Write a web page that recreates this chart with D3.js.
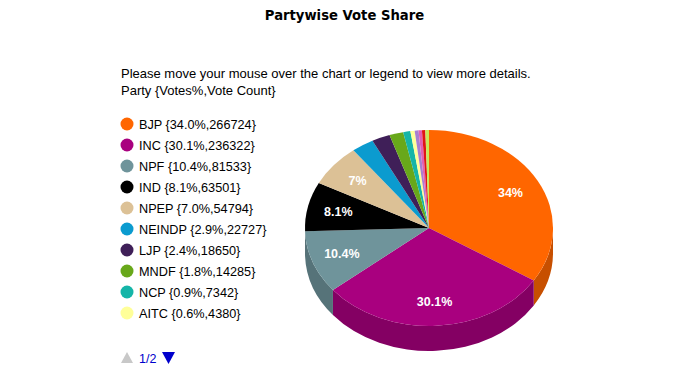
<!DOCTYPE html>
<html>
<head>
<meta charset="utf-8">
<script src="https://cdn.jsdelivr.net/npm/d3@7"></script>
<style>
  body { margin: 0; background: #fff; }
  svg { display: block; }
</style>
</head>
<body>
<div id="vis"></div>
<script>
// party data (first legend page + the small slices of page 2)
const parties = ['BJP', 'INC', 'NPF', 'IND', 'NPEP', 'NEINDP', 'LJP', 'MNDF', 'NCP', 'AITC', 'CPI', 'JD(U)', 'CPI(M)', 'NOTA']
const votes = [266724, 236322, 81533, 63501, 54794, 22727, 18650, 14285, 7342, 4380, 3900, 3500, 3400, 3700]
const pcts = [34.0, 30.1, 10.4, 8.1, 7.0, 2.9, 2.4, 1.8, 0.9, 0.6, 0.5, 0.4, 0.4, 0.5]
const partyColors = ['#ff6600', '#a9007f', '#6f949b', '#000000', '#dcc196', '#0b9bcf', '#3f1f58', '#68a81a', '#15b5a8', '#ffff99', '#a77fd0', '#e25fb4', '#e01515', '#c8e85a']
const legendCount = 10

const W = 689, H = 385
const cx = 429, cy = 228, rx = 124, ry = 98, depth = 25

const svg = d3.select('#vis').append('svg')
    .attr('width', W)
    .attr('height', H)

const color = d3.scaleOrdinal().domain(parties).range(partyColors)

let dataset = parties.map((p, i) => ({ party: p, votes: votes[i], pct: pcts[i] }))

// title
svg.append('text')
    .attr('x', W / 2)
    .attr('y', 20)
    .attr('text-anchor', 'middle')
    .style('font-family', 'DejaVu Sans, Verdana, sans-serif')
    .style('font-weight', 'bold')
    .style('font-size', '13.2px')
    .text('Partywise Vote Share')

let info = svg.append('g')
    .style('font-family', 'Liberation Sans, Arial, sans-serif')
    .style('font-size', '13px')
info.append('text').attr('x', 121).attr('y', 78).text('Please move your mouse over the chart or legend to view more details.')
info.append('text').attr('x', 121).attr('y', 95).text('Party {Votes%,Vote Count}')

// 3d pie
let pie = d3.pie().value(d => d.votes).sort(null).startAngle(0)
let arcs = pie(dataset)

function pt(a, dy) {
    return [cx + rx * Math.sin(a), cy - ry * Math.cos(a) + (dy || 0)]
}

let pieG = svg.append('g')

// visible side walls (front half, between 90 and 270 degrees)
arcs.forEach(d => {
    let a1 = Math.max(d.startAngle, Math.PI / 2)
    let a2 = Math.min(d.endAngle, Math.PI * 1.5)
    if (a2 <= a1) return
    let p1 = pt(a1), p2 = pt(a2), q1 = pt(a1, depth), q2 = pt(a2, depth)
    let path = `M${p1}A${rx},${ry} 0 0 1 ${p2}L${q2}A${rx},${ry} 0 0 0 ${q1}Z`
    pieG.append('path')
        .attr('d', path)
        .attr('fill', d3.color(color(d.data.party)).darker(0.7))
})

// top faces
arcs.forEach(d => {
    let p1 = pt(d.startAngle), p2 = pt(d.endAngle)
    let large = d.endAngle - d.startAngle > Math.PI ? 1 : 0
    pieG.append('path')
        .attr('d', `M${cx},${cy}L${p1}A${rx},${ry} 0 ${large} 1 ${p2}Z`)
        .attr('fill', color(d.data.party))
})

// slice labels
let fmt = v => d3.format('.1f')(v).replace(/\.0$/, '') + '%'
pieG.selectAll('.lbl')
    .data(arcs.filter(d => d.data.pct >= 5))
    .join('text')
    .attr('class', 'lbl')
    .attr('x', d => cx + 0.75 * rx * Math.sin((d.startAngle + d.endAngle) / 2))
    .attr('y', d => cy - 0.75 * ry * Math.cos((d.startAngle + d.endAngle) / 2))
    .attr('dy', '0.35em')
    .attr('text-anchor', 'middle')
    .attr('fill', '#fff')
    .style('font-family', 'Liberation Sans, Arial, sans-serif')
    .style('font-weight', 'bold')
    .style('font-size', '12.5px')
    .text(d => fmt(d.data.pct))

// legend
let legendY = d3.scalePoint().domain(parties.slice(0, legendCount)).range([124, 313])
let legend = svg.append('g')
    .selectAll('g')
    .data(dataset.slice(0, legendCount))
    .join('g')
    .attr('transform', d => `translate(127,${legendY(d.party)})`)

legend.append('circle')
    .attr('r', 6.5)
    .attr('fill', d => color(d.party))

legend.append('text')
    .attr('x', 12)
    .attr('dy', '0.36em')
    .style('font-family', 'Liberation Sans, Arial, sans-serif')
    .style('font-size', '12.7px')
    .text(d => `${d.party} {${d3.format('.1f')(d.pct)}%,${d.votes}}`)

// paging arrows
let nav = svg.append('g').attr('transform', 'translate(0,358)')
nav.append('path')
    .attr('d', 'M121,5L133,5L127,-6Z')
    .attr('fill', '#c8c8c8')
nav.append('text')
    .attr('x', 139)
    .attr('dy', '0.36em')
    .attr('fill', '#0000cc')
    .style('font-family', 'Liberation Sans, Arial, sans-serif')
    .style('font-size', '12.5px')
    .text('1/2')
nav.append('path')
    .attr('d', 'M162,-6L175,-6L168.5,6Z')
    .attr('fill', '#0000cc')
</script>
</body>
</html>
